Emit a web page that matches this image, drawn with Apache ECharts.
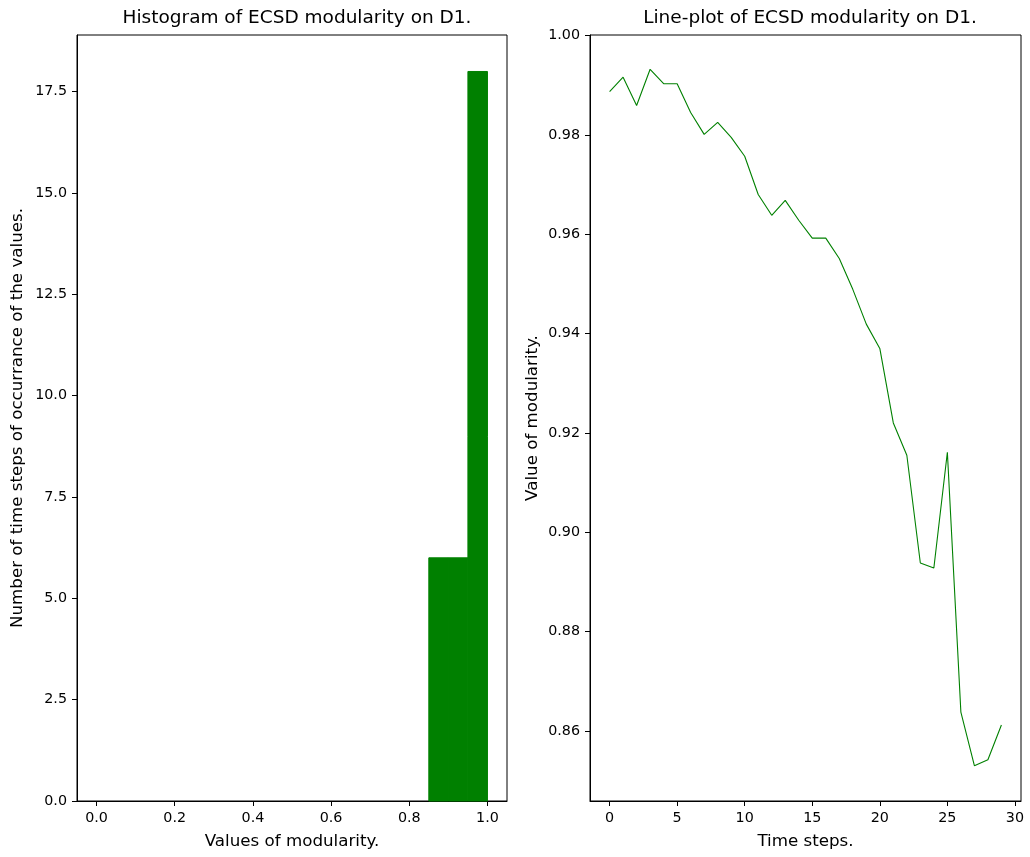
<!DOCTYPE html>
<html>
<head>
<meta charset="utf-8">
<script src="https://cdn.jsdelivr.net/npm/echarts@6/dist/echarts.min.js"></script>
<style>
  html, body { margin: 0; padding: 0; background: #fff; }
  #chart { width: 1030px; height: 857px; }
</style>
</head>
<body>
<div id="chart"></div>
<script>
// Modularity per time step
const timeSteps = [0,1,2,3,4,5,6,7,8,9,10,11,12,13,14,15,16,17,18,19,20,21,22,23,24,25,26,27,28,29];
const modularity = [0.9887,0.9916,0.9859,0.9932,0.9903,0.9903,0.9845,0.9801,0.9825,0.9795,
                    0.9757,0.9680,0.9638,0.9668,0.9628,0.9592,0.9592,0.9551,0.9489,0.9419,
                    0.9370,0.9220,0.9155,0.8938,0.8928,0.9161,0.8638,0.8530,0.8542,0.8612];

// Histogram bins (width 0.05 over [0, 1]) and their counts
const binEdges = [0,0.05,0.1,0.15,0.2,0.25,0.3,0.35,0.4,0.45,0.5,0.55,0.6,0.65,0.7,0.75,0.8,0.85,0.9,0.95,1.0];
const binCounts = [0,0,0,0,0,0,0,0,0,0,0,0,0,0,0,0,0,6,6,18];

// Tick labels
const histXTicks = [0, 0.2, 0.4, 0.6, 0.8, 1.0];
const histYTicks = [0, 2.5, 5, 7.5, 10, 12.5, 15, 17.5];
const lineXTicks = [0, 5, 10, 15, 20, 25, 30];
const lineYTicks = [0.86, 0.88, 0.90, 0.92, 0.94, 0.96, 0.98, 1.00];

const FONT = 'DejaVu Sans';
const GREEN = '#008000';

const histData = binCounts.map((c, i) => [binEdges[i], binEdges[i + 1], c]);

function axisCommon(ticks, digits) {
  return {
    axisLine: { show: true, onZero: false, lineStyle: { color: '#000', width: 1 } },
    axisTick: { show: true, inside: false, length: 5, lineStyle: { color: '#000', width: 1 }, customValues: ticks },
    axisLabel: {
      color: '#000', fontFamily: FONT, fontSize: 14.3, margin: 10,
      customValues: ticks,
      formatter: v => Number(v).toFixed(digits)
    },
    splitLine: { show: false },
    nameTextStyle: { color: '#000', fontFamily: FONT, fontSize: 16.7 },
    nameLocation: 'middle'
  };
}

const titleStyle = { fontFamily: FONT, fontSize: 18.5, fontWeight: 'normal', color: '#000' };

const chart = echarts.init(document.getElementById('chart'), null, { renderer: 'canvas' });
chart.setOption({
  animation: false,
  backgroundColor: '#fff',
  title: [
    { text: 'Histogram of ECSD modularity on D1.', left: 292, top: 4, textAlign: 'center', textStyle: titleStyle },
    { text: 'Line-plot of ECSD modularity on D1.', left: 805, top: 4, textAlign: 'center', textStyle: titleStyle }
  ],
  grid: [
    { left: 77, top: 35, width: 430, height: 766, show: true, borderColor: '#000', borderWidth: 1, backgroundColor: 'transparent' },
    { left: 590, top: 35, width: 431, height: 766, show: true, borderColor: '#000', borderWidth: 1, backgroundColor: 'transparent' }
  ],
  xAxis: [
    Object.assign(axisCommon(histXTicks, 1), {
      type: 'value', gridIndex: 0, min: -0.05, max: 1.05,
      name: 'Values of modularity.', nameGap: 32
    }),
    Object.assign(axisCommon(lineXTicks, 0), {
      type: 'value', gridIndex: 1, min: -1.45, max: 30.45,
      name: 'Time steps.', nameGap: 32
    })
  ],
  yAxis: [
    Object.assign(axisCommon(histYTicks, 1), {
      type: 'value', gridIndex: 0, min: 0, max: 18.9,
      name: 'Number of time steps of occurrance of the values.', nameGap: 51
    }),
    Object.assign(axisCommon(lineYTicks, 2), {
      type: 'value', gridIndex: 1, min: 0.8459, max: 1.0001,
      name: 'Value of modularity.', nameGap: 49
    })
  ],
  series: [
    {
      type: 'custom',
      xAxisIndex: 0, yAxisIndex: 0,
      data: histData,
      encode: { x: [0, 1], y: 2 },
      renderItem: function (params, api) {
        const lo = api.value(0), hi = api.value(1), c = api.value(2);
        if (c <= 0) return null;
        const p0 = api.coord([lo, 0]);
        const p1 = api.coord([hi, c]);
        return {
          type: 'rect',
          shape: { x: p0[0], y: p1[1], width: p1[0] - p0[0], height: p0[1] - p1[1] },
          style: { fill: GREEN, stroke: GREEN, lineWidth: 1 }
        };
      }
    },
    {
      type: 'line',
      xAxisIndex: 1, yAxisIndex: 1,
      data: timeSteps.map((t, i) => [t, modularity[i]]),
      showSymbol: false,
      symbol: 'none',
      lineStyle: { color: GREEN, width: 1.1 },
      itemStyle: { color: GREEN }
    }
  ]
});
</script>
</body>
</html>
